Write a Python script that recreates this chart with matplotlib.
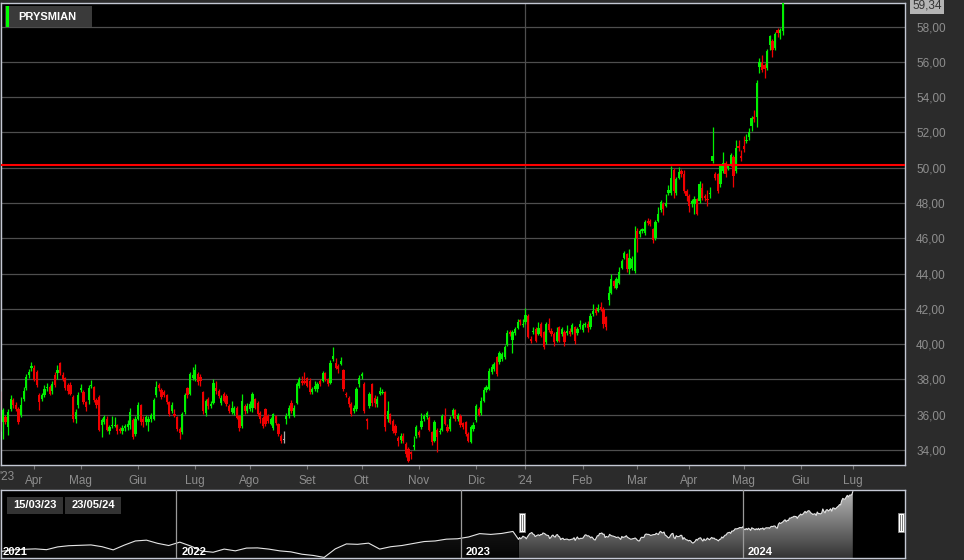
import numpy as np
import pandas as pd
import matplotlib
matplotlib.use("Agg")
import matplotlib.pyplot as plt
from matplotlib.patches import Rectangle
from matplotlib.colors import to_rgb

plt.rcParams['font.family'] = ['Liberation Sans', 'DejaVu Sans']

# ---------------- data (daily candles 15/03/23 .. 23/05/24) ----------------
opens = [
    37.20, 35.58, 35.87, 35.29, 36.34, 36.82, 36.53, 36.34, 35.96, 36.91,
    37.49, 38.25, 38.63, 38.63, 38.44, 37.10, 36.91, 37.14, 37.49, 37.58,
    37.33, 38.25, 38.34, 38.91, 38.25, 38.06, 37.68, 37.71, 37.01, 35.77,
    36.53, 37.39, 37.30, 36.72, 36.82, 37.62, 37.58, 36.82, 37.01, 35.39,
    35.58, 35.77, 35.05, 35.35, 35.37, 35.39, 35.20, 35.05, 35.24, 35.29,
    35.39, 35.68, 34.91, 35.77, 36.53, 35.77, 35.58, 35.58, 35.77, 35.77,
    37.10, 37.68, 37.39, 37.30, 37.10, 36.72, 36.19, 36.06, 35.87, 35.20,
    35.01, 36.15, 37.49, 37.20, 38.06, 38.02, 38.30, 38.15, 37.26, 36.12,
    36.88, 36.50, 36.69, 37.54, 37.35, 36.69, 37.16, 37.07, 36.50, 36.17,
    36.12, 36.40, 35.93, 35.36, 36.50, 36.21, 36.31, 36.40, 36.88, 36.69,
    36.12, 35.84, 36.31, 35.93, 35.46, 35.27, 35.93, 35.46, 34.79, 34.57,
    35.74, 35.93, 36.69, 35.93, 36.69, 37.63, 37.92, 37.92, 38.07, 37.92,
    37.26, 37.44, 37.44, 37.92, 37.92, 38.39, 38.01, 37.82, 39.15, 38.96,
    38.77, 38.90, 38.52, 37.20, 36.93, 36.59, 36.21, 36.31, 37.73, 38.20,
    37.77, 35.74, 36.50, 37.73, 36.97, 36.59, 37.20, 37.24, 37.26, 35.74,
    36.02, 35.65, 35.36, 34.70, 34.55, 34.79, 34.34, 34.06, 33.87, 34.19,
    34.82, 35.01, 35.29, 35.76, 35.86, 35.80, 35.01, 34.53, 35.14, 35.01,
    35.14, 35.95, 35.33, 35.20, 35.90, 36.24, 35.76, 35.95, 35.52, 35.57,
    34.91, 34.44, 35.20, 35.71, 36.33, 36.08, 36.80, 37.41, 37.46, 38.41,
    38.60, 39.26, 39.01, 39.17, 39.26, 39.96, 40.68, 40.24, 40.62, 40.92,
    41.38, 41.09, 41.24, 41.62, 40.30, 40.68, 40.87, 40.58, 41.15, 40.68,
    40.11, 41.15, 40.77, 40.58, 40.20, 40.96, 40.58, 40.68, 40.62, 40.77,
    40.68, 40.96, 40.62, 40.96, 40.81, 41.09, 41.15, 40.96, 41.72, 42.00,
    41.90, 42.13, 42.00, 41.53, 42.50, 42.92, 43.58, 43.17, 43.49, 44.34,
    44.90, 45.09, 44.24, 44.34, 44.15, 46.41, 46.23, 46.41, 46.32, 46.98,
    46.98, 46.51, 46.00, 46.98, 47.58, 47.96, 47.83, 48.58, 48.58, 49.85,
    48.58, 49.43, 49.81, 49.66, 48.68, 48.40, 47.92, 47.92, 48.21, 48.11,
    48.87, 48.40, 48.21, 48.49, 50.38, 49.66, 49.62, 49.06, 49.81, 50.28,
    50.00, 50.19, 50.60, 49.81, 51.23, 50.66, 51.23, 51.51, 51.74, 52.36,
    52.87, 52.87, 55.70, 55.94, 55.85, 55.66, 56.98, 57.21, 56.79, 57.79,
    57.64, 57.74,
]
highs = [
    37.35, 36.40, 36.00, 36.35, 37.10, 36.95, 36.70, 36.45, 37.00, 37.60,
    38.30, 38.60, 39.00, 38.80, 38.55, 37.25, 37.25, 37.70, 37.80, 37.70,
    37.90, 38.45, 38.80, 39.00, 38.40, 38.15, 37.80, 37.85, 37.10, 36.30,
    37.30, 37.75, 37.40, 36.80, 37.70, 37.95, 37.65, 36.95, 37.10, 35.80,
    36.00, 35.90, 35.40, 35.90, 35.85, 35.50, 35.30, 35.40, 35.45, 35.70,
    36.40, 35.80, 35.90, 36.70, 36.60, 35.90, 36.00, 35.90, 36.10, 36.95,
    37.90, 37.80, 37.50, 37.40, 37.20, 36.80, 36.70, 36.30, 35.95, 35.30,
    36.15, 37.25, 37.60, 38.40, 38.70, 38.85, 38.45, 38.30, 37.35, 36.90,
    37.00, 36.75, 38.00, 37.92, 37.45, 37.10, 37.30, 37.15, 36.60, 36.75,
    36.50, 36.50, 36.00, 37.15, 36.60, 36.65, 36.75, 37.30, 36.95, 36.75,
    36.20, 35.95, 36.40, 36.05, 35.85, 36.10, 36.00, 35.55, 34.90, 35.08,
    36.10, 36.55, 36.85, 36.55, 37.85, 38.15, 38.20, 38.40, 38.15, 38.10,
    37.55, 37.90, 37.85, 38.00, 38.50, 38.45, 38.10, 39.10, 39.85, 39.20,
    38.85, 39.30, 38.60, 37.30, 37.05, 36.70, 36.55, 37.55, 38.25, 38.40,
    37.85, 35.80, 37.30, 37.80, 37.10, 37.05, 37.55, 37.45, 37.35, 36.75,
    36.10, 35.75, 35.45, 34.80, 34.95, 34.95, 34.45, 34.15, 33.95, 34.82,
    35.40, 35.15, 36.10, 36.05, 36.20, 35.90, 35.10, 35.70, 35.25, 35.25,
    36.05, 36.40, 35.45, 35.90, 36.40, 36.35, 36.10, 36.05, 35.60, 35.65,
    35.00, 35.40, 35.60, 36.60, 36.45, 37.00, 37.60, 37.70, 38.65, 38.85,
    39.00, 39.35, 39.60, 39.55, 39.95, 40.80, 40.80, 40.80, 41.00, 41.40,
    41.45, 41.40, 42.05, 41.70, 40.45, 40.95, 40.95, 41.25, 41.25, 40.75,
    41.25, 41.50, 40.90, 40.70, 41.00, 41.05, 41.00, 40.80, 41.10, 40.90,
    41.20, 41.05, 41.00, 41.35, 41.20, 41.25, 41.30, 41.75, 42.30, 42.10,
    42.30, 42.40, 42.10, 41.60, 43.30, 43.96, 43.65, 43.80, 44.40, 44.85,
    45.30, 45.15, 45.40, 45.00, 46.70, 46.60, 46.55, 46.60, 47.05, 47.15,
    47.10, 46.60, 47.05, 47.80, 48.20, 48.05, 48.50, 49.00, 50.10, 50.00,
    49.50, 50.05, 49.95, 49.90, 48.80, 48.50, 48.25, 48.40, 48.30, 49.25,
    49.15, 48.50, 48.72, 48.90, 52.30, 49.75, 49.70, 50.20, 50.90, 50.40,
    50.20, 50.85, 50.70, 51.60, 51.60, 51.00, 51.80, 51.90, 52.25, 52.95,
    53.25, 54.95, 56.20, 56.40, 55.95, 56.75, 57.55, 57.30, 57.70, 57.90,
    57.95, 59.34,
]
lows = [
    35.05, 34.63, 35.45, 34.85, 36.20, 36.40, 36.20, 35.45, 35.85, 36.80,
    37.40, 38.10, 38.50, 37.90, 37.60, 36.25, 36.80, 37.00, 37.35, 37.10,
    37.20, 37.55, 38.00, 38.25, 37.90, 37.40, 37.20, 37.10, 35.60, 35.55,
    36.40, 37.30, 36.60, 36.20, 36.60, 37.50, 36.70, 36.40, 35.05, 34.75,
    35.45, 35.05, 34.90, 35.25, 35.30, 34.90, 34.95, 34.90, 35.10, 35.15,
    35.20, 34.65, 34.80, 35.70, 35.40, 35.30, 35.40, 35.10, 35.60, 35.70,
    37.00, 37.35, 36.90, 37.00, 36.60, 35.95, 36.10, 35.85, 35.10, 34.60,
    34.90, 36.05, 36.95, 37.10, 37.95, 37.90, 37.70, 37.65, 36.05, 35.95,
    36.35, 36.40, 36.60, 37.16, 36.95, 36.55, 36.70, 36.50, 36.10, 36.05,
    36.00, 35.75, 35.10, 35.25, 36.05, 36.10, 36.20, 36.15, 36.30, 35.95,
    35.55, 35.25, 35.35, 35.55, 35.40, 35.15, 35.40, 34.80, 34.40, 34.42,
    35.45, 35.80, 36.10, 35.85, 36.60, 37.50, 37.70, 37.75, 37.55, 37.15,
    37.15, 37.35, 37.30, 37.65, 37.85, 37.90, 37.65, 37.75, 39.05, 38.60,
    38.35, 38.80, 37.35, 37.00, 36.45, 35.90, 36.10, 36.20, 37.60, 38.05,
    36.10, 35.20, 36.40, 36.50, 36.45, 36.45, 37.10, 37.15, 35.10, 35.60,
    35.45, 34.95, 34.85, 34.20, 34.40, 34.40, 33.60, 33.30, 33.50, 34.00,
    34.70, 34.75, 35.20, 35.65, 35.75, 35.05, 34.30, 34.45, 33.90, 34.90,
    35.05, 35.40, 35.00, 35.10, 35.80, 35.65, 35.65, 35.30, 35.20, 34.80,
    34.45, 34.40, 35.10, 35.60, 35.90, 36.00, 36.70, 37.30, 37.40, 38.30,
    38.50, 38.20, 38.90, 39.05, 39.15, 39.90, 40.45, 39.50, 40.50, 40.85,
    41.10, 41.00, 41.15, 40.35, 40.05, 40.55, 40.10, 40.50, 40.40, 39.70,
    40.00, 40.70, 40.45, 39.90, 40.10, 40.10, 40.45, 39.90, 40.50, 40.45,
    40.55, 40.00, 40.50, 40.85, 40.70, 40.95, 40.70, 40.85, 41.60, 41.65,
    41.80, 41.90, 40.90, 40.80, 42.20, 42.85, 43.20, 43.10, 43.40, 44.25,
    44.80, 44.10, 43.95, 44.20, 44.05, 45.20, 46.10, 46.30, 46.20, 46.75,
    46.70, 45.75, 45.90, 46.90, 47.50, 47.30, 47.75, 48.45, 48.45, 48.30,
    48.45, 49.35, 49.50, 48.55, 48.10, 47.50, 47.80, 47.40, 47.30, 48.00,
    48.20, 48.10, 47.83, 48.30, 50.25, 49.30, 48.55, 48.90, 49.70, 49.50,
    49.85, 50.10, 48.90, 49.70, 50.95, 50.40, 50.90, 51.40, 51.60, 52.10,
    52.60, 52.30, 55.40, 55.45, 55.10, 55.55, 56.70, 56.30, 56.70, 57.40,
    57.30, 57.50,
]
closes = [
    35.29, 36.25, 35.58, 36.15, 36.91, 36.53, 36.34, 35.58, 36.57, 37.33,
    38.15, 38.44, 38.76, 37.96, 37.71, 36.72, 37.10, 37.43, 37.58, 37.20,
    37.77, 37.68, 38.53, 38.34, 38.02, 37.49, 37.33, 37.20, 35.77, 36.15,
    37.10, 37.49, 36.72, 36.44, 37.49, 37.71, 36.82, 36.53, 35.16, 35.68,
    35.87, 35.16, 35.29, 35.43, 35.41, 35.09, 35.05, 35.24, 35.35, 35.49,
    36.15, 34.76, 35.77, 36.53, 35.58, 35.58, 35.87, 35.77, 35.96, 36.82,
    37.58, 37.49, 37.01, 37.10, 36.72, 36.06, 36.53, 35.92, 35.20, 34.97,
    36.06, 37.14, 37.10, 38.29, 38.25, 38.53, 37.85, 37.92, 36.21, 36.78,
    36.50, 36.60, 37.82, 37.35, 37.07, 36.97, 36.78, 36.59, 36.21, 36.40,
    36.40, 35.84, 35.27, 36.78, 36.21, 36.50, 36.59, 37.16, 36.40, 36.02,
    35.74, 35.36, 35.46, 35.65, 35.74, 36.02, 35.55, 34.89, 34.51, 34.57,
    35.93, 36.40, 36.21, 36.40, 37.73, 38.01, 37.82, 37.82, 37.63, 37.26,
    37.44, 37.63, 37.73, 37.73, 38.39, 38.01, 37.73, 38.96, 39.34, 38.67,
    38.58, 39.02, 37.48, 37.12, 36.59, 36.02, 36.40, 37.44, 38.11, 38.33,
    36.21, 35.65, 37.16, 36.69, 36.69, 36.88, 37.35, 37.31, 35.30, 36.21,
    35.55, 35.08, 34.98, 34.51, 34.79, 34.51, 33.78, 33.40, 33.78, 34.31,
    35.29, 34.87, 35.67, 35.95, 36.08, 35.14, 34.44, 35.57, 34.76, 35.10,
    35.95, 35.48, 35.10, 35.76, 36.27, 35.76, 35.99, 35.39, 35.33, 34.91,
    34.53, 35.29, 35.39, 36.52, 36.01, 36.80, 37.41, 37.56, 38.50, 38.69,
    38.88, 38.31, 39.49, 39.45, 39.83, 40.62, 40.58, 40.68, 40.87, 41.24,
    41.24, 41.15, 41.68, 40.43, 40.17, 40.77, 40.20, 40.92, 40.49, 39.83,
    41.15, 40.81, 40.58, 40.11, 40.68, 40.20, 40.87, 40.11, 40.77, 40.58,
    41.06, 40.20, 40.87, 41.15, 41.09, 41.15, 40.92, 41.62, 41.87, 41.75,
    42.06, 42.00, 41.15, 40.96, 42.92, 43.68, 43.30, 43.68, 44.11, 44.72,
    45.19, 44.24, 44.90, 44.81, 46.04, 46.00, 46.41, 46.51, 46.94, 46.89,
    46.79, 45.89, 46.94, 47.36, 48.07, 47.64, 48.02, 48.72, 49.40, 48.68,
    49.34, 49.77, 49.62, 48.68, 48.40, 47.83, 48.11, 48.21, 47.36, 49.10,
    48.30, 48.30, 48.15, 48.58, 50.66, 49.40, 48.68, 50.09, 50.28, 49.62,
    50.09, 50.75, 49.53, 51.13, 51.13, 50.57, 51.04, 51.60, 52.04, 52.83,
    52.74, 54.81, 55.98, 55.57, 55.62, 56.60, 57.49, 56.70, 57.60, 57.64,
    57.80, 59.34,
]
# navigator history before the visible window (one value every 10 sessions)
pre_closes = [
    29.3, 30.0, 30.3, 30.5, 30.1, 31.5, 32.1, 32.3, 32.5, 31.6,
    30.0, 32.4, 34.5, 34.9, 33.3, 32.2, 33.9, 31.9, 29.4, 28.8,
    30.4, 29.5, 30.9, 31.0, 30.4, 29.5, 29.0, 27.8, 27.2, 26.2,
    30.5, 33.0, 32.8, 33.4, 30.4, 31.6, 32.2, 33.2, 34.2, 34.5,
    35.4, 35.6, 36.5, 38.2, 37.8, 38.3, 39.3,
]
ticker = "PRYSMIAN"
level_line = 50.15
range_labels = ["15/03/23", "23/05/24"]
month_names = ["'", "Feb", "Mar", "Apr", "Mag", "Giu", "Lug", "Ago", "Set", "Ott", "Nov", "Dic"]
y_ticks = list(range(34, 59, 2))

assert len(opens) == len(highs) == len(lows) == len(closes) == 302

# ---------------- calendar (trading sessions) ----------------
holidays = pd.to_datetime(["2022-04-15", "2022-04-18", "2022-08-15", "2022-12-26",
                           "2023-04-07", "2023-04-10", "2023-05-01", "2023-08-15",
                           "2023-12-25", "2023-12-26", "2024-01-01", "2024-03-29",
                           "2024-04-01", "2024-05-01", "2024-08-15"])
days = pd.bdate_range("2023-03-15", "2024-08-30")
days = days[~days.isin(holidays)]
pre_days = pd.bdate_range("2022-01-01", "2023-03-14")
pre_days = pre_days[~pre_days.isin(holidays)]

# ---------------- figure ----------------
W, H = 964, 560
BG = '#2b2b2b'
GREEN, RED, GRAY = '#00f000', '#f00000', '#b0b0b0'
TXT = '#8e8e8e'
fig = plt.figure(figsize=(W / 100, H / 100), dpi=100, facecolor=BG)


def fx(px):
    return px / W


def fy(py):
    return 1 - py / H


ax = fig.add_axes([fx(1), fy(465), fx(905) - fx(1), fy(3) - fy(465)])
ax.set_facecolor('black')
XMIN, XMAX = 0.3, 348.0

idx = np.arange(len(closes))
o, h, l, c = map(np.array, (opens, highs, lows, closes))
cols = np.where(c > o, GREEN, np.where(c < o, RED, GRAY))
ax.vlines(idx, l, h, colors=cols, lw=0.9, zorder=3)
ax.bar(idx, np.maximum(np.abs(c - o), 0.05), bottom=np.minimum(o, c), width=0.85,
       color=cols, lw=0, zorder=4)

ax.axhline(level_line, color='#ff0000', lw=1.5, zorder=5)

ax.set_xlim(XMIN, XMAX)
ax.set_ylim(33.15, 59.34)
ax.set_axisbelow(True)
ax.set_yticks(y_ticks)
ax.set_yticklabels([f"{v:.2f}".replace('.', ',') for v in y_ticks])
ax.grid(axis='y', color='#4e4e4e', lw=0.9)
ax.yaxis.tick_right()
ax.tick_params(axis='y', length=0, pad=8, labelcolor=TXT, labelsize=8.5)

# month ticks
m_pos, m_lab = [], []
for i in range(1, len(days)):
    if days[i].month != days[i - 1].month and i < XMAX - 3:
        m_pos.append(i)
        m_lab.append("'" + days[i].strftime('%y') if days[i].month == 1 else month_names[days[i].month - 1])
ax.set_xticks(m_pos)
ax.set_xticklabels(m_lab)
ax.tick_params(axis='x', length=3, color='#777777', labelcolor=TXT, labelsize=8.5, pad=4)
year_idx = [p for p, lab in zip(m_pos, m_lab) if lab.startswith("'")]
for p in year_idx:
    ax.axvline(p, color='#4e4e4e', lw=0.9, zorder=1)
fig.text(fx(7), fy(477), "'23", ha='center', va='center', color=TXT, fontsize=8.5)

for s in ax.spines.values():
    s.set_color('#c4c8d4')
    s.set_linewidth(1)

# last price tag
fig.text(fx(927), fy(6), f"{closes[-1]:.2f}".replace('.', ','), ha='center', va='center',
         color='#333333', fontsize=8.5,
         bbox=dict(boxstyle='square,pad=0.2', fc='#b4b4b4', ec='none'))

# legend box
fig.patches.append(Rectangle((fx(5), fy(27)), fx(92) - fx(5), fy(6) - fy(27),
                             transform=fig.transFigure, fc='#3a3a3a', ec='none'))
fig.patches.append(Rectangle((fx(6), fy(27)), fx(3), fy(6) - fy(27),
                             transform=fig.transFigure, fc='#00ff00', ec='none'))
fig.text(fx(18), fy(17), ticker, ha='left', va='center', color='white',
         fontsize=8, fontweight='bold')

# ---------------- navigator ----------------
nav = fig.add_axes([fx(1), fy(558), fx(905) - fx(1), fy(490) - fy(558)])
nav.set_facecolor('black')
NX0, NX1, NY0, NY1 = -466, 348.0, 25.9, 60.2
pre_x = np.arange(-465, 0, 10)
pre_y = np.array(pre_closes)


def grad_fill(axn, xs, ys, top_col, bot_col, z):
    coll = axn.fill_between(xs, ys, NY0, facecolor='none', edgecolor='none')
    t = np.linspace(0, 1, 256)[:, None, None]
    top = np.array(to_rgb(top_col))[None, None, :]
    bot = np.array(to_rgb(bot_col))[None, None, :]
    img = bot + (top - bot) * t
    im = axn.imshow(img, extent=[xs[0], xs[-1], NY0, NY1], origin='lower',
                    aspect='auto', zorder=z, interpolation='bilinear')
    im.set_clip_path(coll.get_paths()[0], transform=axn.transData)


grad_fill(nav, np.append(pre_x, 0), np.append(pre_y, closes[0]), '#2a2a2a', '#050505', 1)
grad_fill(nav, idx.astype(float), c, '#b8b8b8', '#333333', 1)
nav.plot(np.concatenate([pre_x, idx]), np.concatenate([pre_y, c]),
         color='#e6e6e6', lw=0.8, zorder=3)

y2022 = -len(pre_days)
y2023 = -len(pre_days[pre_days >= pd.Timestamp("2023-01-01")])
y2024 = year_idx[0]
for yi in (y2022, y2023, y2024):
    nav.axvline(yi, color='#9a9a9a', lw=0.9, zorder=4)
nav.set_xlim(NX0, NX1)
nav.set_ylim(NY0, NY1)
nav.set_xticks([])
nav.set_yticks([])
for s in nav.spines.values():
    s.set_color('#c4c8d4')
    s.set_linewidth(1)

pxu = (905 - 1) / (NX1 - NX0)


def nav_px(v):
    return 1 + (v - NX0) * pxu


for lab, yi in (("2021", NX0), ("2022", y2022), ("2023", y2023), ("2024", y2024)):
    xp = 3 if lab == "2021" else nav_px(yi) + 5
    fig.text(fx(xp), fy(552), lab, ha='left', va='center', color='white',
             fontsize=8, fontweight='bold', zorder=10)

# range handles
for xc in (nav_px(0) + 3, nav_px(NX1) - 4):
    fig.patches.append(Rectangle((fx(xc - 3), fy(532)), fx(6), fy(513) - fy(532),
                                 transform=fig.transFigure, fc='white', ec='#888888', lw=0.6, zorder=10))
    for dx in (-1, 1):
        fig.lines.append(plt.Line2D([fx(xc + dx), fx(xc + dx)], [fy(530), fy(515)],
                                    transform=fig.transFigure, color='#777777', lw=0.7, zorder=11))

# date boxes
for (x0, x1), lab in zip(((7, 63), (65, 121)), range_labels):
    fig.patches.append(Rectangle((fx(x0), fy(514)), fx(x1 - x0), fy(497) - fy(514),
                                 transform=fig.transFigure, fc='#333333', ec='none', zorder=10))
    fig.text(fx((x0 + x1) / 2), fy(505.5), lab, ha='center', va='center', color='white',
             fontsize=8, fontweight='bold', zorder=11)

fig.savefig("out.png", dpi=100, facecolor=BG)
